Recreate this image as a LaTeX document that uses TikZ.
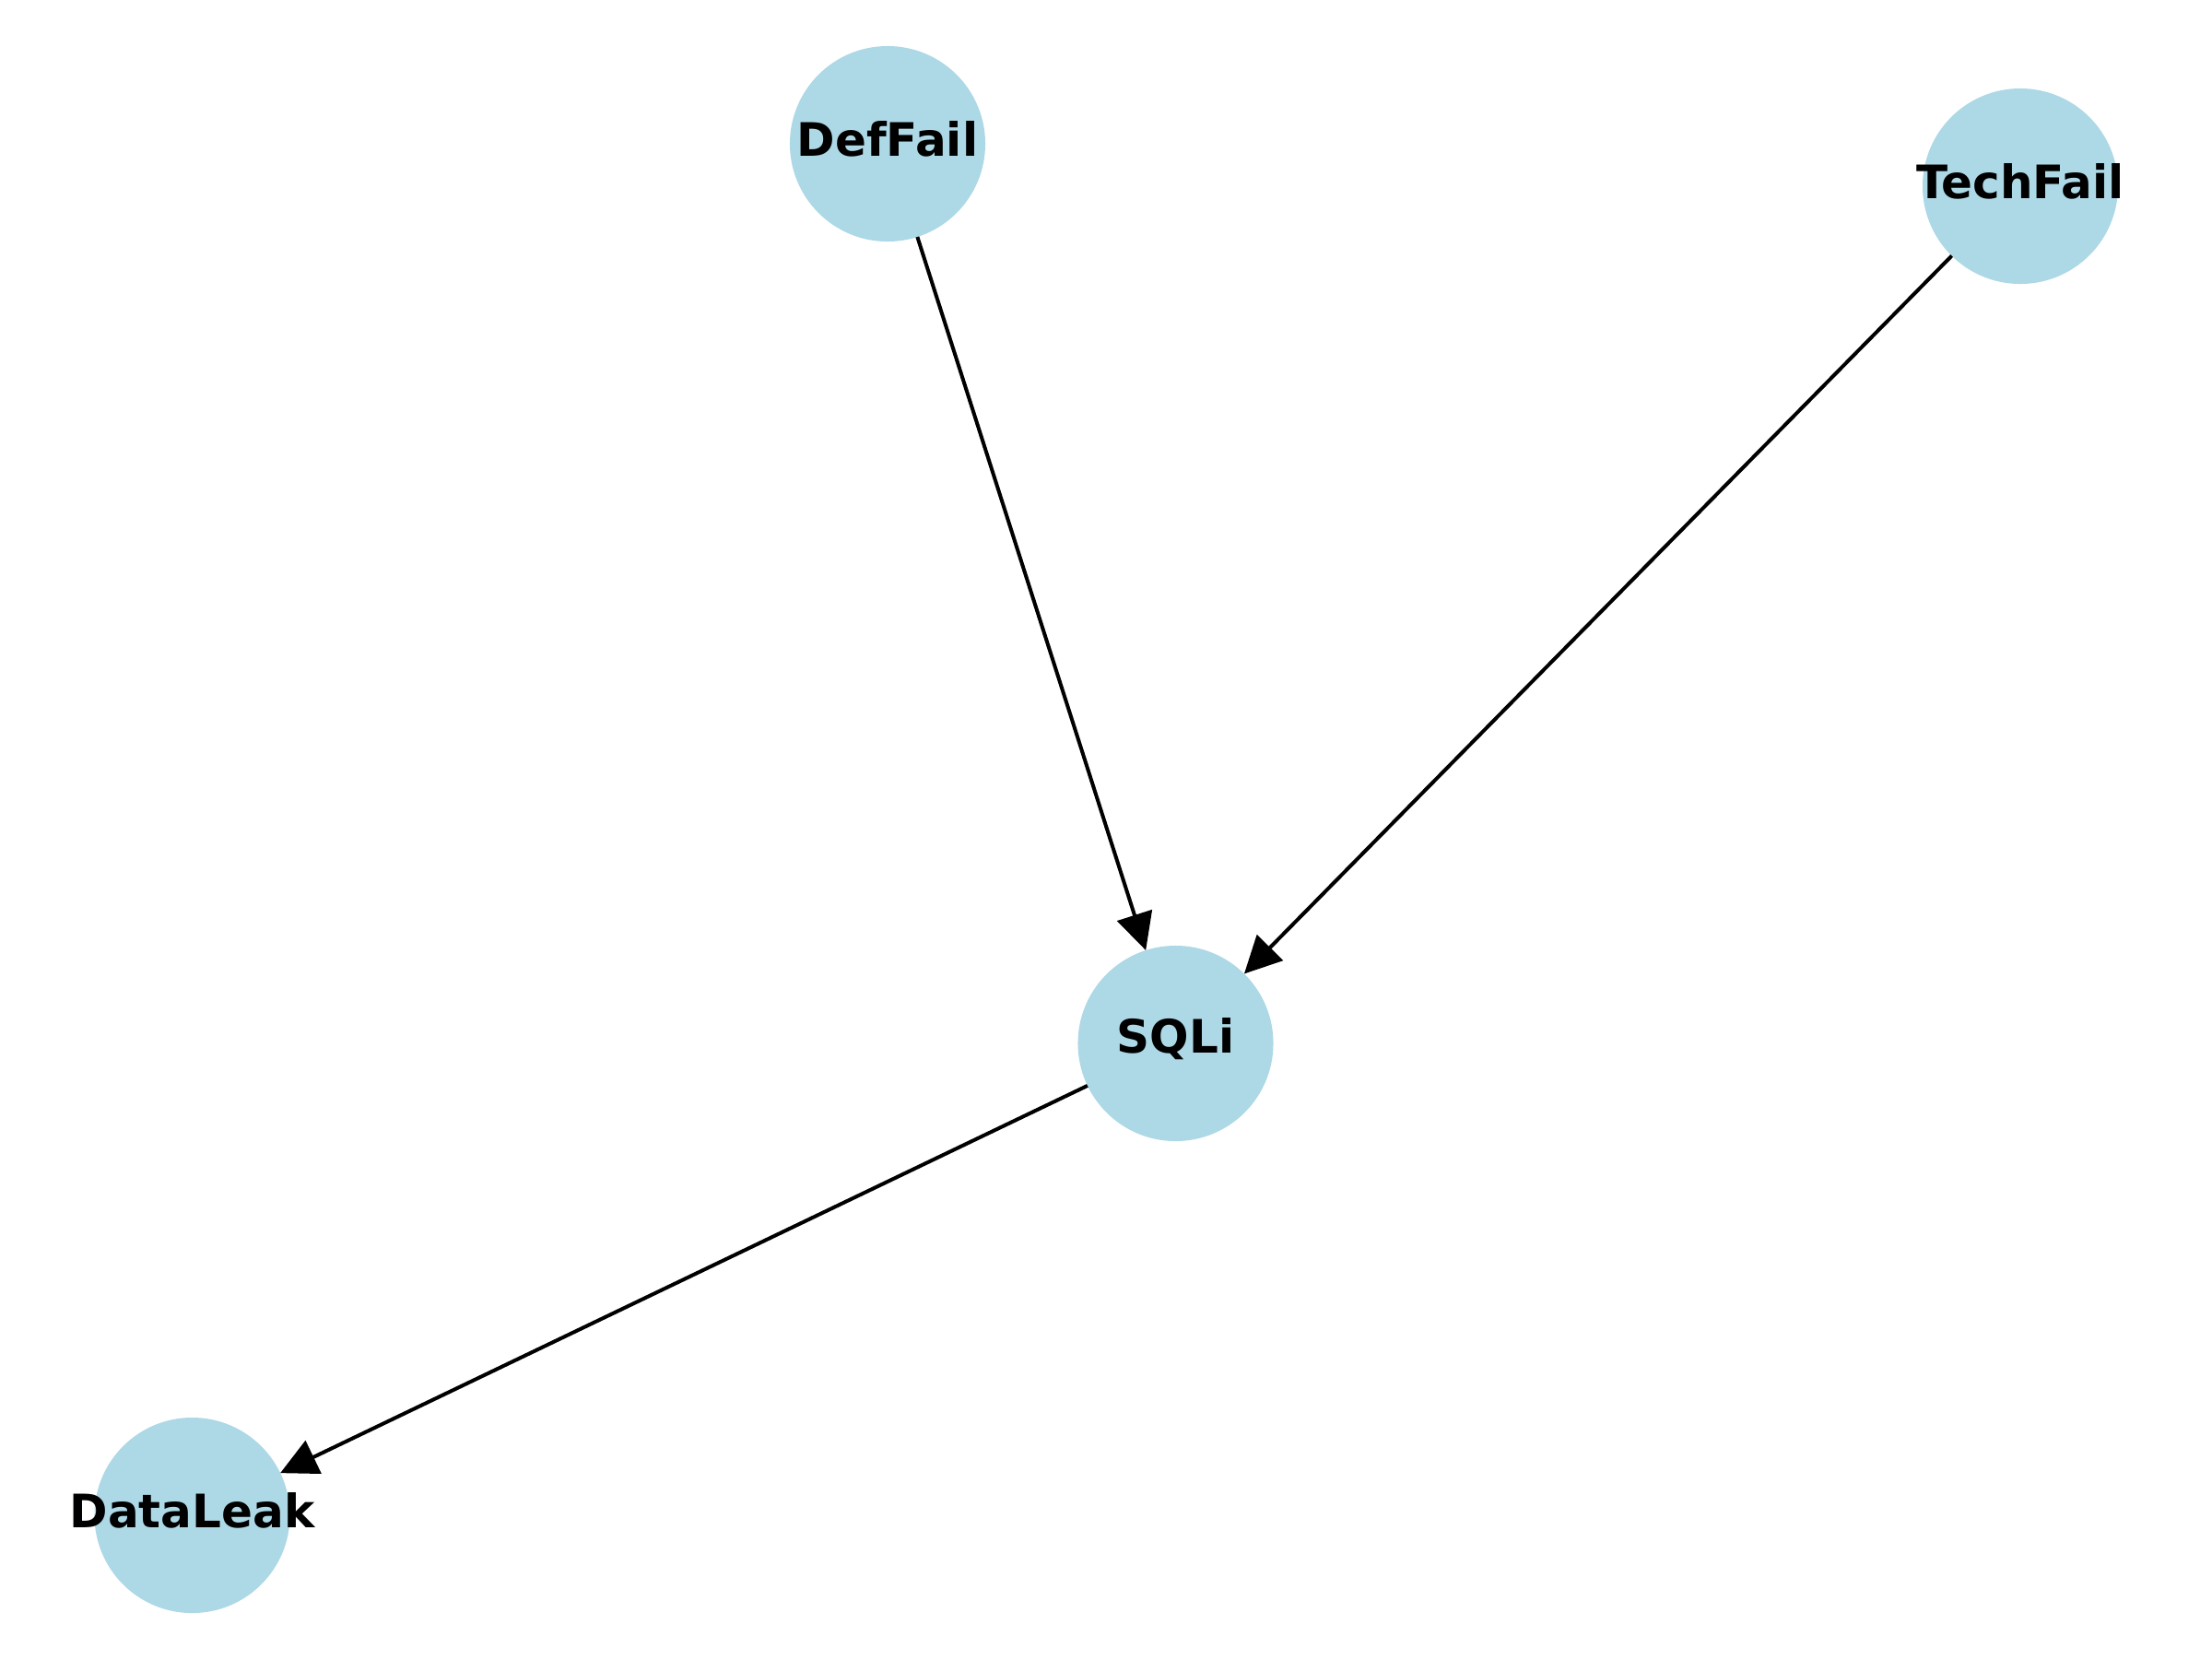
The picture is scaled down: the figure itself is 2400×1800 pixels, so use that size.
\documentclass[tikz,border=0pt]{standalone}
\usepackage{fontspec}
\setmainfont{DejaVu Sans}
\usetikzlibrary{arrows.meta}
\definecolor{nodeblue}{HTML}{ADD8E6}
\tikzset{
  gnode/.style={circle, fill=nodeblue, draw=none, minimum size=50.9pt, inner sep=0pt, outer sep=0pt},
  glabel/.style={font=\fontsize{12pt}{14pt}\selectfont\bfseries, text=black, inner sep=0pt, yshift=1.2pt},
  gedge/.style={draw=black, line width=0.96pt, -{Triangle[length=9.6pt, width=9.4pt]}}
}
\begin{document}
\begin{tikzpicture}[x=0.24pt, y=-0.24pt]
\useasboundingbox (0,0) rectangle (2400,1800);
\node[gnode, label={[glabel]center:DefFail}] (DefFail) at (963,156) {};
\node[gnode, label={[glabel]center:TechFail}] (TechFail) at (2192,202) {};
\node[gnode, label={[glabel]center:SQLi}] (SQLi) at (1275.5,1132) {};
\node[gnode, label={[glabel]center:DataLeak}] (DataLeak) at (208.5,1644) {};
\draw[gedge] (DefFail) -- (SQLi);
\draw[gedge] (TechFail) -- (SQLi);
\draw[gedge] (SQLi) -- (DataLeak);
\end{tikzpicture}
\end{document}
